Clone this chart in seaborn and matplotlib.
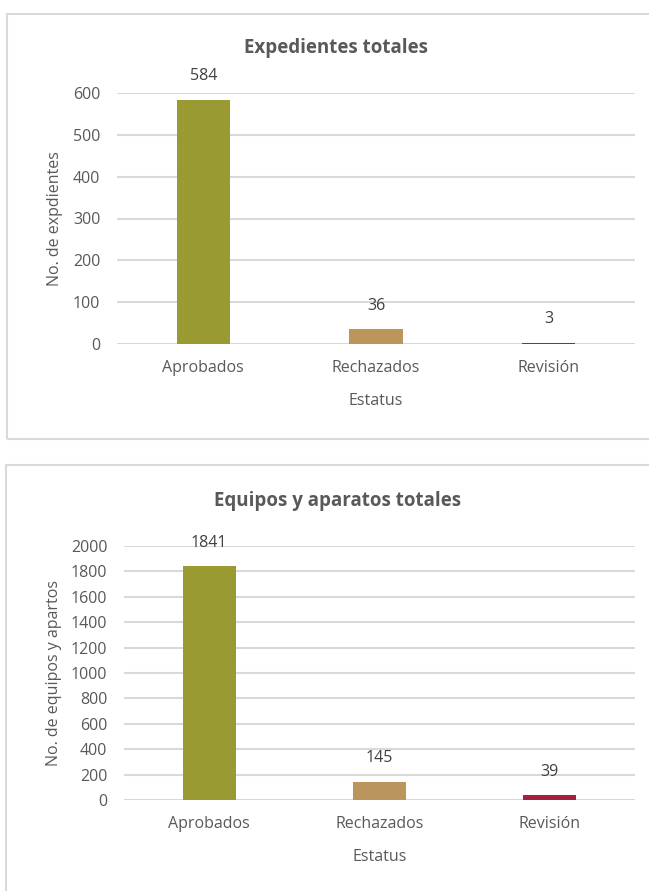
import matplotlib
matplotlib.use("Agg")
import matplotlib.pyplot as plt
import seaborn as sns
import pandas as pd
from matplotlib.patches import Rectangle

categories = ["Aprobados", "Rechazados", "Revisión"]
expedientes = [584, 36, 3]
equipos = [1841, 145, 39]
colors = ["#9A9A33", "#BC955C", "#A3213F"]

sns.set_theme(style="white")
plt.rcParams['font.family'] = ['Open Sans', 'DejaVu Sans']
TXT = "#595959"
GRID = "#D9D9D9"
FS = 11.5

W, H = 649, 891
fig = plt.figure(figsize=(W / 100, H / 100), dpi=100)

def fx(x):
    return x / W

def fy(y):
    return 1 - y / H

# panel borders
fig.add_artist(Rectangle((fx(7), fy(439)), fx(700), fy(14) - fy(439), transform=fig.transFigure,
                         fill=False, edgecolor=GRID, lw=1.5))
fig.add_artist(Rectangle((fx(6), fy(950)), fx(700), fy(465) - fy(950), transform=fig.transFigure,
                         fill=False, edgecolor=GRID, lw=1.5))

def draw(ax_box, values, ymax, step, title, title_pos, ylabel, ylab_x):
    l, t, r, b = ax_box
    ax = fig.add_axes([fx(l), fy(b), fx(r) - fx(l), fy(t) - fy(b)])
    df = pd.DataFrame({"Estatus": categories, "Valor": values})
    sns.barplot(data=df, x="Estatus", y="Valor", hue="Estatus", palette=colors,
                legend=False, width=0.31, ax=ax, saturation=1, linewidth=0)
    ax.set_ylim(0, ymax)
    ax.set_yticks(list(range(0, ymax + 1, step)))
    ax.set_xlim(-0.5, 2.5)
    for s in ax.spines.values():
        s.set_visible(False)
    ax.grid(axis="y", color=GRID, lw=1.5)
    ax.set_axisbelow(True)
    ax.tick_params(axis="both", length=0, colors=TXT, labelsize=FS)
    ax.tick_params(axis="x", pad=11.5)
    ax.tick_params(axis="y", pad=12)
    ax.set_xlabel("Estatus", color=TXT, fontsize=FS, labelpad=12.5)
    ax.set_ylabel("")
    for c in ax.containers:
        ax.bar_label(c, labels=[f"{int(v)}" for v in c.datavalues], padding=11,
                     color="#404040", fontsize=FS)
    fig.text(fx(title_pos[0]), fy(title_pos[1]), title, ha="center", va="center",
             fontsize=13.5, fontweight="bold", color=TXT)
    fig.text(fx(ylab_x), fy((t + b) / 2), ylabel, rotation=90, ha="center", va="center",
             fontsize=FS, color=TXT)
    return ax

draw((117, 93, 635, 344), expedientes, 600, 100, "Expedientes totales", (336, 48),
     "No. de expdientes", 55)
draw((124, 546, 635, 800), equipos, 2000, 200, "Equipos y aparatos totales", (338, 501),
     "No. de equipos y apartos", 54)

fig.savefig("out.png", dpi=100)
